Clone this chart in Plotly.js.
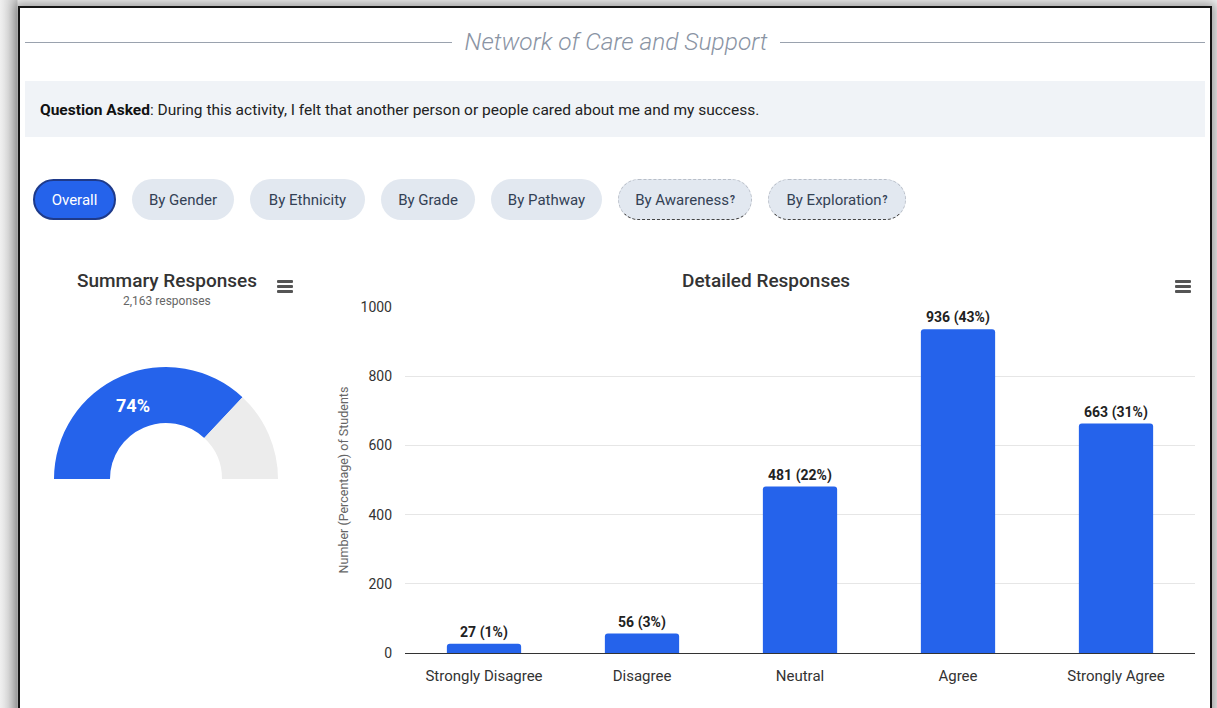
<!DOCTYPE html>
<html>
<head>
<meta charset="utf-8">
<script src="https://cdn.plot.ly/plotly-3.0.1.min.js"></script>
<style>
  html, body { margin:0; padding:0; width:1217px; height:708px; overflow:hidden; background:#d9d9d9; font-family: Roboto, "Noto Sans", sans-serif; }
  #frame { position:absolute; left:0; top:0; width:1217px; height:708px;
           background: linear-gradient(to right, #f0f0f0 0px, #c8c8c8 17px, transparent 18px), #f0f0f0; }
  #card { position:absolute; left:18px; top:6px; width:1190px; height:760px; background:#fff;
          border:2px solid #151515; box-shadow: 0 0 10px 3px rgba(0,0,0,0.35); }
  .hline { position:absolute; height:1px; background:#9aa2ae; top:42px; }
  #title { position:absolute; left:400px; width:432px; top:27px; text-align:center; font-style:italic; font-weight:300; font-size:24.5px; line-height:30px; color:#8a94a4; }
  #qbox { position:absolute; left:25px; top:81px; width:1180px; height:56px; background:#f0f3f7; }
  #qtext { position:absolute; left:40px; top:100px; font-size:15.5px; line-height:20px; color:#222; }
  #qtext b { color:#111; font-weight:700; }
  .btn { position:absolute; top:179px; height:41px; border-radius:21px; background:#e2e8f0; color:#334155; font-size:15px;
         display:flex; align-items:center; justify-content:center; box-sizing:border-box; }
  .btn.on { background:#2563eb; color:#fff; border:2px solid #1e3a8a; }
  .btn.dash { border:1px dashed #b8bec8; border-bottom:1px dashed #444; }
  .btn sup { font-size:10px; font-weight:700; vertical-align:super; line-height:0; margin-left:1px; }
  .menu { position:absolute; width:16px; height:13px; }
  .menu span { position:absolute; left:0; width:16px; height:2.5px; background:#555; border-radius:1px; }
  #plot { position:absolute; left:0; top:0; width:1217px; height:708px; }
</style>
</head>
<body>
<div id="frame"></div>
<div id="card"></div>
<div class="hline" style="left:25px; width:427px;"></div>
<div class="hline" style="left:780px; width:425px;"></div>
<div id="title">Network of Care and Support</div>
<div id="qbox"></div>
<div id="qtext"><b>Question Asked</b>: During this activity, I felt that another person or people cared about me and my success.</div>

<div class="btn on" style="left:33px; width:83px;">Overall</div>
<div class="btn" style="left:132px; width:102px;">By Gender</div>
<div class="btn" style="left:250px; width:115px;">By Ethnicity</div>
<div class="btn" style="left:381px; width:94px;">By Grade</div>
<div class="btn" style="left:491px; width:111px;">By Pathway</div>
<div class="btn dash" style="left:618px; width:134px;">By Awareness<sup>?</sup></div>
<div class="btn dash" style="left:768px; width:138px;">By Exploration<sup>?</sup></div>

<div class="menu" style="left:277px; top:280px;"><span style="top:0"></span><span style="top:5px"></span><span style="top:10px"></span></div>
<div class="menu" style="left:1175px; top:280px;"><span style="top:0"></span><span style="top:5px"></span><span style="top:10px"></span></div>

<div id="plot"></div>

<script>
// ---- data ----
const categories = ["Strongly Disagree", "Disagree", "Neutral", "Agree", "Strongly Agree"];
const counts = [27, 56, 481, 936, 663];
const percentLabels = ["1%", "3%", "22%", "43%", "31%"];
const totalResponses = 2163;
const gaugePositive = 1599;   // Agree + Strongly Agree
const gaugeRest = 564;        // everything else
const gaugeLabel = "74%";
const yTicks = [0, 200, 400, 600, 800, 1000];

const W = 1217, H = 708;
const px = x => x / W;
const py = y => (H - y) / H;

const barText = counts.map((c, i) => c + " (" + percentLabels[i] + ")");

const blue = "#2563eb";

const traces = [
  {
    type: "pie",
    values: [gaugePositive, gaugeRest, gaugePositive + gaugeRest],
    labels: ["Positive", "Other", "hidden"],
    marker: { colors: [blue, "#ececec", "rgba(0,0,0,0)"], line: { width: 0 } },
    hole: 0.5,
    sort: false,
    direction: "clockwise",
    rotation: -90,
    textinfo: "none",
    hoverinfo: "skip",
    showlegend: false,
    domain: { x: [px(54), px(278)], y: [py(591), py(367)] }
  },
  {
    type: "bar",
    x: categories,
    y: counts,
    text: barText,
    textposition: "outside",
    cliponaxis: false,
    textfont: { family: "Roboto, sans-serif", size: 14, color: "#222", weight: 700 },
    marker: { color: blue, cornerradius: 3 },
    hoverinfo: "x+y",
    showlegend: false,
    xaxis: "x", yaxis: "y"
  }
];

const layout = {
  width: W, height: H,
  margin: { l: 0, r: 0, t: 0, b: 0 },
  paper_bgcolor: "rgba(0,0,0,0)",
  plot_bgcolor: "rgba(0,0,0,0)",
  font: { family: "Roboto, sans-serif", color: "#333" },
  bargap: 0.53,
  xaxis: {
    domain: [px(405), px(1195)],
    anchor: "y",
    tickfont: { size: 15, color: "#333" },
    showgrid: false,
    showline: false,
    ticks: "",
    ticklabelstandoff: 12,
    fixedrange: true
  },
  yaxis: {
    domain: [py(653), py(307)],
    anchor: "x",
    range: [0, 1000],
    tickvals: yTicks,
    tickfont: { size: 14, color: "#333" },
    gridcolor: "#e6e6e6",
    gridwidth: 1,
    zeroline: true,
    zerolinecolor: "#333",
    zerolinewidth: 1,
    ticks: "",
    ticklabelstandoff: 12,
    title: { text: "Number (Percentage) of Students", font: { size: 12.5, color: "#666" }, standoff: 9 },
    fixedrange: true
  },
  annotations: [
    { text: "Summary Responses", x: px(167), y: py(280), xref: "paper", yref: "paper", showarrow: false,
      font: { size: 19, color: "#333", weight: 500 }, xanchor: "center", yanchor: "middle" },
    { text: totalResponses.toLocaleString("en-US") + " responses", x: px(167), y: py(301), xref: "paper", yref: "paper", showarrow: false,
      font: { size: 12, color: "#666" }, xanchor: "center", yanchor: "middle" },
    { text: "Detailed Responses", x: px(766), y: py(280), xref: "paper", yref: "paper", showarrow: false,
      font: { size: 19, color: "#333", weight: 500 }, xanchor: "center", yanchor: "middle" },
    { text: gaugeLabel, x: px(133), y: py(405), xref: "paper", yref: "paper", showarrow: false,
      font: { size: 18, color: "#fff", weight: 700 }, xanchor: "center", yanchor: "middle" }
  ]
};

Plotly.newPlot("plot", traces, layout, { displayModeBar: false });
</script>
</body>
</html>
